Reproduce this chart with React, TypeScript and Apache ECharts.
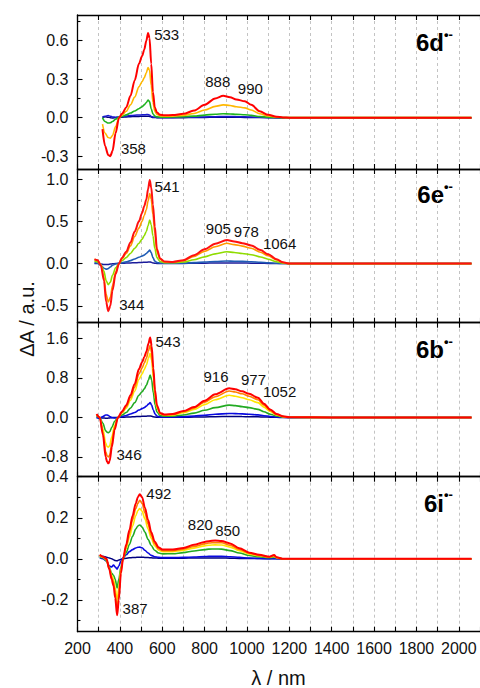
import React, { useEffect, useRef } from 'react';
import * as echarts from 'echarts';

// ---------- DATA ----------
// Panel 6d
const W_6D = [318, 330, 345, 355, 365, 380, 396, 410, 430, 450, 470, 490, 505, 515, 525, 533, 540, 548, 556, 565, 575, 590, 610, 650, 700, 750, 800, 850, 888, 920, 950, 990, 1020, 1060, 1100, 1140, 1170, 1200, 1400, 1700, 2060];
const RED_6D = [-0.09, -0.22, -0.29, -0.30, -0.26, -0.12, 0.0, 0.03, 0.08, 0.17, 0.29, 0.42, 0.48, 0.53, 0.60, 0.66, 0.62, 0.42, 0.20, 0.08, 0.04, 0.022, 0.018, 0.02, 0.03, 0.055, 0.10, 0.15, 0.17, 0.16, 0.142, 0.128, 0.10, 0.05, 0.022, 0.008, 0.002, 0, 0, 0, 0];
const ORANGE_6D = [-0.05, -0.12, -0.155, -0.16, -0.14, -0.07, 0.0, 0.02, 0.05, 0.10, 0.16, 0.24, 0.28, 0.31, 0.35, 0.39, 0.37, 0.25, 0.12, 0.05, 0.025, 0.014, 0.011, 0.012, 0.018, 0.033, 0.06, 0.088, 0.10, 0.095, 0.085, 0.076, 0.06, 0.03, 0.013, 0.005, 0.001, 0, 0, 0, 0];
const GREEN_6D = [0.0, -0.03, -0.042, -0.04, -0.03, -0.012, 0.004, 0.01, 0.022, 0.036, 0.052, 0.07, 0.085, 0.1, 0.118, 0.138, 0.125, 0.07, 0.03, 0.012, 0.006, 0.004, 0.004, 0.005, 0.008, 0.012, 0.02, 0.027, 0.03, 0.029, 0.026, 0.023, 0.018, 0.009, 0.004, 0.001, 0, 0, 0, 0, 0];
const BLUE_6D = [0.005, 0.012, 0.016, 0.012, 0.006, 0.004, 0.006, 0.009, 0.013, 0.016, 0.019, 0.021, 0.022, 0.023, 0.024, 0.025, 0.02, 0.01, 0.005, 0.003, 0.002, 0.002, 0.002, 0.002, 0.003, 0.004, 0.006, 0.008, 0.009, 0.009, 0.008, 0.007, 0.005, 0.003, 0.001, 0, 0, 0, 0, 0, 0];
const NAVY_6D = [0.0, 0.008, 0.004, 0.0, -0.003, 0.0, 0.002, 0.004, 0.006, 0.008, 0.009, 0.01, 0.011, 0.011, 0.012, 0.012, 0.01, 0.005, 0.002, 0.001, 0, 0, 0, 0, 0, 0.001, 0.002, 0.003, 0.003, 0.003, 0.003, 0.002, 0.002, 0.001, 0, 0, 0, 0, 0, 0, 0];
const PEAKS_6D = [533, 888, 990, 358];
const TICKS_6D = [-0.3, 0.0, 0.3, 0.6];
const MINOR_6D = [-0.15, 0.15, 0.45, 0.75];

// Panel 6e
const W_6E = [280, 295, 310, 325, 335, 345, 355, 365, 380, 396, 410, 430, 450, 470, 490, 505, 515, 525, 533, 541, 548, 556, 565, 575, 590, 610, 650, 700, 750, 800, 850, 905, 940, 978, 1020, 1064, 1100, 1140, 1170, 1200, 1400, 1700, 2060];
const RED_6E = [0.05, 0.04, -0.02, -0.2, -0.45, -0.565, -0.5, -0.32, -0.12, 0.0, 0.07, 0.14, 0.25, 0.38, 0.5, 0.6, 0.68, 0.76, 0.88, 0.99, 0.9, 0.7, 0.44, 0.17, 0.06, 0.025, 0.02, 0.04, 0.1, 0.17, 0.235, 0.28, 0.262, 0.242, 0.215, 0.16, 0.11, 0.05, 0.015, 0, 0, 0, 0];
const ORANGE_6E = [0.05, 0.04, -0.015, -0.16, -0.36, -0.455, -0.4, -0.26, -0.1, 0.0, 0.06, 0.12, 0.21, 0.32, 0.42, 0.5, 0.57, 0.64, 0.74, 0.83, 0.76, 0.58, 0.36, 0.14, 0.05, 0.02, 0.017, 0.034, 0.085, 0.145, 0.2, 0.24, 0.225, 0.207, 0.182, 0.135, 0.092, 0.042, 0.012, 0, 0, 0, 0];
const LIME_6E = [0.03, 0.02, -0.01, -0.09, -0.2, -0.25, -0.22, -0.14, -0.05, 0.0, 0.035, 0.07, 0.12, 0.18, 0.24, 0.29, 0.33, 0.38, 0.45, 0.515, 0.46, 0.33, 0.18, 0.07, 0.025, 0.01, 0.01, 0.018, 0.045, 0.08, 0.115, 0.14, 0.132, 0.12, 0.105, 0.078, 0.052, 0.022, 0.006, 0, 0, 0, 0];
const BLUE_6E = [0.01, 0.005, -0.02, -0.055, -0.066, -0.06, -0.04, -0.02, -0.005, 0.005, 0.01, 0.02, 0.035, 0.055, 0.075, 0.09, 0.1, 0.12, 0.14, 0.16, 0.13, 0.07, 0.03, 0.012, 0.006, 0.004, 0.004, 0.006, 0.011, 0.018, 0.025, 0.03, 0.028, 0.026, 0.022, 0.016, 0.01, 0.004, 0.001, 0, 0, 0, 0];
const NAVY_6E = [0.0, 0.0, -0.005, -0.01, -0.012, -0.01, -0.006, -0.003, 0.0, 0.002, 0.004, 0.006, 0.008, 0.01, 0.012, 0.014, 0.015, 0.016, 0.018, 0.02, 0.016, 0.008, 0.004, 0.002, 0.001, 0.001, 0.001, 0.002, 0.003, 0.005, 0.006, 0.007, 0.007, 0.006, 0.005, 0.004, 0.002, 0.001, 0, 0, 0, 0, 0];
const PEAKS_6E = [541, 905, 978, 1064, 344];
const TICKS_6E = [-0.5, 0.0, 0.5, 1.0];
const MINOR_6E = [-0.25, 0.25, 0.75];

// Panel 6b
const W_6B = [290, 305, 320, 333, 340, 346, 352, 362, 375, 391, 410, 430, 450, 470, 490, 505, 515, 525, 535, 543, 550, 558, 566, 575, 590, 610, 650, 700, 750, 800, 850, 916, 945, 977, 1010, 1052, 1080, 1110, 1140, 1170, 1200, 1400, 1700, 2060];
const RED_6B = [0.07, 0.0, -0.35, -0.8, -0.9, -0.93, -0.88, -0.6, -0.25, 0.0, 0.12, 0.25, 0.45, 0.68, 0.98, 1.12, 1.22, 1.33, 1.5, 1.62, 1.45, 1.0, 0.55, 0.25, 0.09, 0.06, 0.07, 0.13, 0.21, 0.34, 0.47, 0.59, 0.57, 0.53, 0.48, 0.4, 0.28, 0.16, 0.07, 0.025, 0.005, 0, 0, 0];
const ORANGE_6B = [0.06, 0.0, -0.3, -0.69, -0.78, -0.8, -0.76, -0.52, -0.21, 0.0, 0.1, 0.22, 0.4, 0.61, 0.88, 1.0, 1.1, 1.2, 1.35, 1.46, 1.31, 0.9, 0.49, 0.22, 0.08, 0.05, 0.06, 0.115, 0.19, 0.31, 0.42, 0.535, 0.515, 0.48, 0.43, 0.36, 0.25, 0.14, 0.06, 0.02, 0.004, 0, 0, 0];
const YELLOW_6B = [0.05, 0.0, -0.23, -0.52, -0.59, -0.6, -0.57, -0.39, -0.16, 0.0, 0.09, 0.19, 0.35, 0.53, 0.77, 0.88, 0.97, 1.06, 1.2, 1.3, 1.16, 0.8, 0.43, 0.19, 0.07, 0.045, 0.05, 0.095, 0.16, 0.26, 0.36, 0.45, 0.43, 0.4, 0.36, 0.3, 0.21, 0.12, 0.05, 0.017, 0.003, 0, 0, 0];
const GREEN_6B = [0.03, 0.0, -0.12, -0.27, -0.3, -0.31, -0.29, -0.2, -0.08, 0.0, 0.05, 0.1, 0.19, 0.3, 0.45, 0.52, 0.58, 0.65, 0.76, 0.86, 0.76, 0.5, 0.26, 0.11, 0.04, 0.025, 0.028, 0.05, 0.088, 0.145, 0.2, 0.25, 0.24, 0.22, 0.2, 0.165, 0.115, 0.065, 0.03, 0.01, 0.002, 0, 0, 0];
const BLUE_6B = [0.0, -0.02, 0.02, 0.05, 0.05, 0.04, 0.02, 0.0, -0.01, 0.0, 0.02, 0.04, 0.07, 0.1, 0.15, 0.18, 0.2, 0.23, 0.27, 0.3, 0.25, 0.15, 0.07, 0.03, 0.012, 0.008, 0.01, 0.016, 0.028, 0.045, 0.065, 0.08, 0.078, 0.072, 0.065, 0.052, 0.036, 0.02, 0.008, 0.003, 0.0, 0, 0, 0];
const NAVY_6B = [0.0, 0.0, -0.01, -0.015, -0.015, -0.012, -0.01, -0.005, 0.0, 0.0, 0.004, 0.008, 0.012, 0.016, 0.02, 0.023, 0.025, 0.027, 0.03, 0.032, 0.025, 0.014, 0.007, 0.004, 0.002, 0.002, 0.003, 0.005, 0.008, 0.012, 0.016, 0.02, 0.019, 0.018, 0.016, 0.013, 0.009, 0.005, 0.002, 0.001, 0, 0, 0, 0];
const PEAKS_6B = [543, 916, 977, 1052, 346];
const TICKS_6B = [-0.8, 0.0, 0.8, 1.6];
const MINOR_6B = [-0.4, 0.4, 1.2];

// Panel 6i
const W_6I = [305, 320, 337, 350, 361, 370, 378, 387, 395, 405, 415, 430, 445, 460, 475, 485, 494, 505, 518, 533, 548, 564, 583, 603, 650, 700, 750, 800, 820, 850, 880, 920, 964, 1011, 1058, 1105, 1128, 1140, 1168, 1200, 1400, 1700, 2060];
const RED_6I = [0.02, 0.01, 0.0, -0.05, -0.1, -0.13, -0.19, -0.275, -0.2, -0.07, 0.0, 0.07, 0.14, 0.21, 0.27, 0.3, 0.315, 0.3, 0.25, 0.19, 0.13, 0.084, 0.055, 0.045, 0.045, 0.053, 0.068, 0.082, 0.086, 0.089, 0.087, 0.075, 0.052, 0.03, 0.02, 0.01, 0.018, 0.008, 0.0, 0, 0, 0, 0];
const ORANGE_6I = [0.02, 0.01, -0.005, -0.05, -0.09, -0.115, -0.165, -0.24, -0.17, -0.06, 0.0, 0.06, 0.125, 0.19, 0.245, 0.27, 0.285, 0.27, 0.225, 0.17, 0.115, 0.074, 0.048, 0.04, 0.04, 0.047, 0.06, 0.073, 0.077, 0.079, 0.078, 0.066, 0.046, 0.027, 0.017, 0.009, 0.015, 0.007, 0.0, 0, 0, 0, 0];
const YELLOW_6I = [0.015, 0.008, -0.005, -0.045, -0.08, -0.1, -0.14, -0.2, -0.14, -0.05, 0.0, 0.05, 0.105, 0.16, 0.21, 0.235, 0.245, 0.232, 0.195, 0.145, 0.1, 0.064, 0.042, 0.035, 0.035, 0.041, 0.052, 0.063, 0.066, 0.068, 0.067, 0.057, 0.04, 0.023, 0.015, 0.008, 0.012, 0.006, 0.0, 0, 0, 0, 0];
const GREEN_6I = [0.01, 0.005, -0.01, -0.04, -0.07, -0.08, -0.1, -0.142, -0.1, -0.04, 0.0, 0.03, 0.07, 0.11, 0.145, 0.16, 0.165, 0.155, 0.13, 0.095, 0.065, 0.042, 0.028, 0.024, 0.025, 0.03, 0.038, 0.045, 0.047, 0.048, 0.047, 0.04, 0.028, 0.016, 0.01, 0.005, 0.008, 0.004, 0.0, 0, 0, 0, 0];
const BLUE_6I = [0.005, 0.0, -0.01, -0.035, -0.04, -0.03, -0.04, -0.05, -0.035, -0.01, 0.005, 0.02, 0.035, 0.045, 0.053, 0.056, 0.057, 0.054, 0.042, 0.028, 0.017, 0.01, 0.007, 0.006, 0.006, 0.007, 0.009, 0.011, 0.012, 0.012, 0.012, 0.01, 0.007, 0.004, 0.002, 0.001, 0.002, 0.001, 0.0, 0, 0, 0, 0];
const NAVY_6I = [0.01, 0.012, 0.008, 0.004, 0.0, -0.004, -0.008, -0.01, -0.006, -0.002, 0.0, 0.003, 0.005, 0.006, 0.007, 0.008, 0.008, 0.008, 0.007, 0.006, 0.005, 0.004, 0.003, 0.003, 0.003, 0.003, 0.004, 0.004, 0.004, 0.004, 0.004, 0.003, 0.002, 0.001, 0.001, 0, 0, 0, 0, 0, 0, 0, 0];
const PEAKS_6I = [492, 820, 850, 387];
const TICKS_6I = [-0.2, 0.0, 0.2, 0.4];
const MINOR_6I = [-0.3, -0.1, 0.1, 0.3];

const X_LABELS = [200, 400, 600, 800, 1000, 1200, 1400, 1600, 1800, 2000];

// ---------- LAYOUT / STYLE ----------
const FONT = '"Liberation Sans", Arial, Helvetica, sans-serif';
const LEFT = 77.5;
const WIDTH = 404.2;

const PANELS = [
  {
    name: '6d', top: 15, height: 154, ymin: -0.4, ymax: 0.8, ticks: TICKS_6D, minor: MINOR_6D,
    wl: W_6D,
    lines: [
      { d: NAVY_6D, c: '#000080', w: 1.5 },
      { d: BLUE_6D, c: '#1a1ad0', w: 1.5 },
      { d: GREEN_6D, c: '#1fb31f', w: 1.6 },
      { d: ORANGE_6D, c: '#ffb800', w: 1.6 },
      { d: RED_6D, c: '#ff0000', w: 2 },
    ],
    peaks: PEAKS_6D,
    anchors: [[621, 0.645], [862, 0.285], [1016, 0.23], [464, -0.24]],
    titleY: 42, supY: 34.5,
  },
  {
    name: '6e', top: 169, height: 153.7, ymin: -0.7, ymax: 1.12, ticks: TICKS_6E, minor: MINOR_6E,
    wl: W_6E,
    lines: [
      { d: NAVY_6E, c: '#1b1b9a', w: 1.5 },
      { d: BLUE_6E, c: '#1f5cb5', w: 1.6 },
      { d: LIME_6E, c: '#8fdc00', w: 1.6 },
      { d: ORANGE_6E, c: '#ff9a00', w: 1.6 },
      { d: RED_6E, c: '#ff1010', w: 2 },
    ],
    peaks: PEAKS_6E,
    anchors: [[623, 0.91], [865, 0.42], [997, 0.38], [1154, 0.24], [456, -0.48]],
    titleY: 194, supY: 186,
  },
  {
    name: '6b', top: 322.7, height: 154, ymin: -1.2, ymax: 1.92, ticks: TICKS_6B, minor: MINOR_6B,
    wl: W_6B,
    lines: [
      { d: NAVY_6B, c: '#000080', w: 1.5 },
      { d: BLUE_6B, c: '#0a0ae0', w: 1.6 },
      { d: GREEN_6B, c: '#22aa22', w: 1.6 },
      { d: YELLOW_6B, c: '#ffe600', w: 1.6 },
      { d: ORANGE_6B, c: '#ff8000', w: 1.6 },
      { d: RED_6B, c: '#ff0000', w: 2 },
    ],
    peaks: PEAKS_6B,
    anchors: [[627, 1.535], [854, 0.83], [1031, 0.77], [1154, 0.52], [443, -0.76]],
    titleY: 349, supY: 341,
  },
  {
    name: '6i', top: 476.7, height: 155, ymin: -0.355, ymax: 0.4, ticks: TICKS_6I, minor: MINOR_6I,
    wl: W_6I,
    lines: [
      { d: NAVY_6I, c: '#000080', w: 1.5 },
      { d: BLUE_6I, c: '#0a0ae0', w: 1.6 },
      { d: GREEN_6I, c: '#22aa22', w: 1.6 },
      { d: YELLOW_6I, c: '#ffe600', w: 1.6 },
      { d: ORANGE_6I, c: '#ff8000', w: 1.6 },
      { d: RED_6I, c: '#ff0000', w: 2 },
    ],
    peaks: PEAKS_6I,
    anchors: [[584, 0.316], [780, 0.165], [909, 0.14], [472, -0.24]],
    titleY: 503.5, supY: 494.5,
  },
];

function buildOption() {
  const grid: any[] = [];
  const xAxis: any[] = [];
  const yAxis: any[] = [];
  const series: any[] = [];
  const graphic: any[] = [];
  const axisLineStyle = { color: '#000', width: 1.3 };

  PANELS.forEach((p, i) => {
    grid.push({ left: LEFT, width: WIDTH, top: p.top, height: p.height, containLabel: false });
    const isLast = i === PANELS.length - 1;
    xAxis.push({
      gridIndex: i, type: 'value', min: 200, max: 2100, interval: 100, position: 'bottom',
      axisLine: { show: true, onZero: false, lineStyle: axisLineStyle },
      axisTick: { show: true, inside: true, length: 5, lineStyle: { color: '#000', width: 1.1 } },
      axisLabel: {
        show: isLast, customValues: X_LABELS, margin: 9, fontSize: 16, color: '#111',
        fontFamily: FONT, hideOverlap: false,
        formatter: (v: number) => String(Math.round(v)),
      },
      splitLine: { show: true, lineStyle: { color: '#b4b4b4', width: 0.8, type: [3, 3] } },
    });
    xAxis.push({
      gridIndex: i, type: 'value', min: 200, max: 2100, interval: 100, position: 'top',
      axisLine: { show: true, onZero: false, lineStyle: axisLineStyle },
      axisTick: { show: true, inside: true, length: 5, lineStyle: { color: '#000', width: 1.1 } },
      axisLabel: { show: false },
      splitLine: { show: false },
    });
    yAxis.push({
      gridIndex: i, type: 'value', min: p.ymin, max: p.ymax, position: 'left',
      axisLine: { show: true, onZero: false, lineStyle: axisLineStyle },
      axisTick: { show: true, inside: true, length: 5, customValues: p.ticks, lineStyle: { color: '#000', width: 1.1 } },
      axisLabel: {
        show: true, customValues: p.ticks, margin: 9, fontSize: 16, color: '#111', fontFamily: FONT,
        formatter: (v: number) => v.toFixed(1),
      },
      splitLine: { show: false },
    });
    yAxis.push({
      gridIndex: i, type: 'value', min: p.ymin, max: p.ymax, position: 'left',
      axisLine: { show: false, onZero: false },
      axisTick: { show: true, inside: true, length: 3, customValues: p.minor, lineStyle: { color: '#000', width: 1.1 } },
      axisLabel: { show: false },
      splitLine: { show: false },
    });

    p.lines.forEach((ln) => {
      series.push({
        type: 'line', xAxisIndex: 2 * i, yAxisIndex: 2 * i,
        data: p.wl.map((w, k) => [w, ln.d[k]]),
        showSymbol: false, symbol: 'none', smooth: 0.3, smoothMonotone: 'x',
        lineStyle: { color: ln.c, width: ln.w }, silent: true,
      });
    });

    series.push({
      type: 'scatter', xAxisIndex: 2 * i, yAxisIndex: 2 * i, silent: true,
      symbolSize: 1, itemStyle: { color: '#ffffff', opacity: 1 },
      data: p.peaks.map((pk, k) => ({ name: String(pk), value: p.anchors[k] })),
      label: {
        show: true, position: 'inside', formatter: '{b}', fontSize: 15, color: '#111', fontFamily: FONT,
        textBorderWidth: 0, opacity: 1,
      },
      z: 5,
    });

    graphic.push({
      type: 'text', x: 444, y: p.titleY,
      style: { text: p.name, font: `bold 24px ${FONT}`, fill: '#000', align: 'right', verticalAlign: 'middle' },
    });
    graphic.push({
      type: 'text', x: 444, y: p.supY,
      style: { text: '•-', font: `bold 13px ${FONT}`, fill: '#000', align: 'left', verticalAlign: 'middle' },
    });
  });

  graphic.push({
    type: 'text', x: 278.5, y: 678,
    style: { text: 'λ / nm', font: `20px ${FONT}`, fill: '#111', align: 'center', verticalAlign: 'middle' },
  });
  graphic.push({
    type: 'text', x: 27, y: 319, rotation: Math.PI / 2,
    style: { text: 'ΔA / a.u.', font: `20px ${FONT}`, fill: '#111', align: 'center', verticalAlign: 'middle' },
  });

  return {
    animation: false,
    backgroundColor: '#ffffff',
    grid, xAxis, yAxis, series, graphic,
  };
}

export default function App() {
  const ref = useRef<HTMLDivElement>(null);
  useEffect(() => {
    if (!ref.current) return;
    const chart = echarts.init(ref.current, undefined, { renderer: 'svg' });
    chart.setOption(buildOption() as any);
    return () => chart.dispose();
  }, []);
  return (
    <div
      ref={ref}
      style={{ position: 'fixed', left: 0, top: 0, width: 480, height: 688, background: '#fff' }}
    />
  );
}
